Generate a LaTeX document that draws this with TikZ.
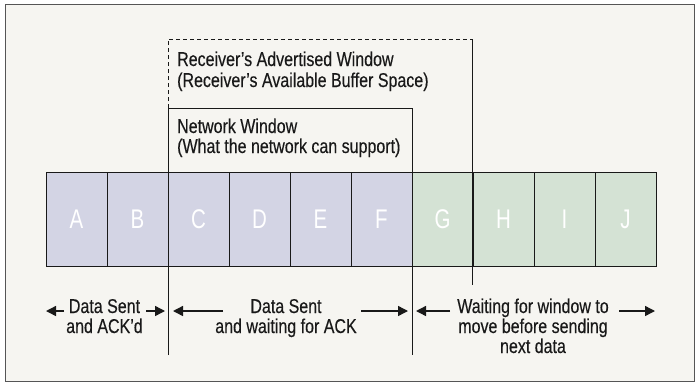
\documentclass[tikz,border=0pt]{standalone}
\usepackage{fontspec}
\setmainfont[FakeStretch=0.80,FakeBold=0.3]{Liberation Sans}
\newfontfamily\cellfont[FakeStretch=0.76]{Liberation Sans}
\usetikzlibrary{arrows.meta}
\definecolor{bg}{RGB}{246,245,241}
\definecolor{sentcol}{RGB}{211,212,228}
\definecolor{waitcol}{RGB}{212,226,212}
\definecolor{framecol}{RGB}{85,85,85}
\definecolor{inkcol}{RGB}{25,25,25}
\begin{document}
\begin{tikzpicture}[x=1pt,y=-1pt,
  cell/.style={draw=inkcol, line width=0.9pt, minimum width=61pt, minimum height=94pt, inner sep=0pt},
  celltxt/.style={anchor=base, text=white, font=\cellfont\fontsize{27}{27}\selectfont, inner sep=0pt},
  lbl/.style={anchor=base west, text=inkcol, font=\fontsize{20}{20}\selectfont, inner sep=0pt},
  captxt/.style={anchor=base, text=inkcol, font=\fontsize{20}{20}\selectfont, inner sep=0pt},
  winline/.style={draw=inkcol, line width=0.9pt},
  dashline/.style={draw=inkcol, line width=0.9pt, dash pattern=on 4pt off 3pt},
  arr/.style={draw=inkcol, line width=1.4pt, -{Triangle[length=10pt,width=10pt]}}
]
\useasboundingbox (0,0) rectangle (700,383);
\fill[white] (0,0) rectangle (700,383);
\draw[framecol, line width=1.3pt, fill=bg] (5.5,4.5) rectangle (694.5,381.5);

% cells
\foreach \l/\c [count=\i from 0] in {A/sentcol,B/sentcol,C/sentcol,D/sentcol,E/sentcol,F/sentcol,G/waitcol,H/waitcol,I/waitcol,J/waitcol}{
  \node[cell, fill=\c] (cell\l) at ({76.5+61*\i},219) {};
  \node[celltxt] (let\l) at ({76.5+61*\i},228) {\l};
}

% window corner coordinates
\coordinate (rwTL) at (168,39);
\coordinate (rwTR) at (472,39);
\coordinate (rwBR) at (472,285);
\coordinate (nwTL) at (168,108);
\coordinate (nwTR) at (412,108);
\coordinate (nwBL) at (168,355);
\coordinate (nwBR) at (412,355);

% receiver's advertised window
\draw[dashline] (nwTL) -- (rwTL) -- (rwTR);
\draw[winline] (rwTR) -- (rwBR);
% network window
\draw[winline] (nwBL) -- (nwTL) -- (nwTR) -- (nwBR);

% window labels
\node[lbl] (rw1) at (177,66) {Receiver’s Advertised Window};
\node[lbl] (rw2) at (177,87) {(Receiver’s Available Buffer Space)};
\node[lbl] (nw1) at (177,133) {Network Window};
\node[lbl] (nw2) at (177,153) {(What the network can support)};

% bottom captions
\node[captxt] (s1a) at (104.5,313) {Data Sent};
\node[captxt] (s1b) at (104.5,333) {and ACK’d};
\node[captxt] (s2a) at (286,313) {Data Sent};
\node[captxt] (s2b) at (286,333) {and waiting for ACK};
\node[captxt] (s3a) at (533,313) {Waiting for window to};
\node[captxt] (s3b) at (533,333) {move before sending};
\node[captxt] (s3c) at (533,353) {next data};

% arrow end points
\coordinate (a1l0) at (64,311); \coordinate (a1l1) at (46,311);
\coordinate (a1r0) at (146,311); \coordinate (a1r1) at (165,311);
\coordinate (a2l0) at (223,311); \coordinate (a2l1) at (173,311);
\coordinate (a2r0) at (361,311); \coordinate (a2r1) at (408,311);
\coordinate (a3l0) at (450,311); \coordinate (a3l1) at (416,311);
\coordinate (a3r0) at (619,311); \coordinate (a3r1) at (655,311);
\draw[arr] (a1l0) -- (a1l1);
\draw[arr] (a1r0) -- (a1r1);
\draw[arr] (a2l0) -- (a2l1);
\draw[arr] (a2r0) -- (a2r1);
\draw[arr] (a3l0) -- (a3l1);
\draw[arr] (a3r0) -- (a3r1);
\end{tikzpicture}
\end{document}
